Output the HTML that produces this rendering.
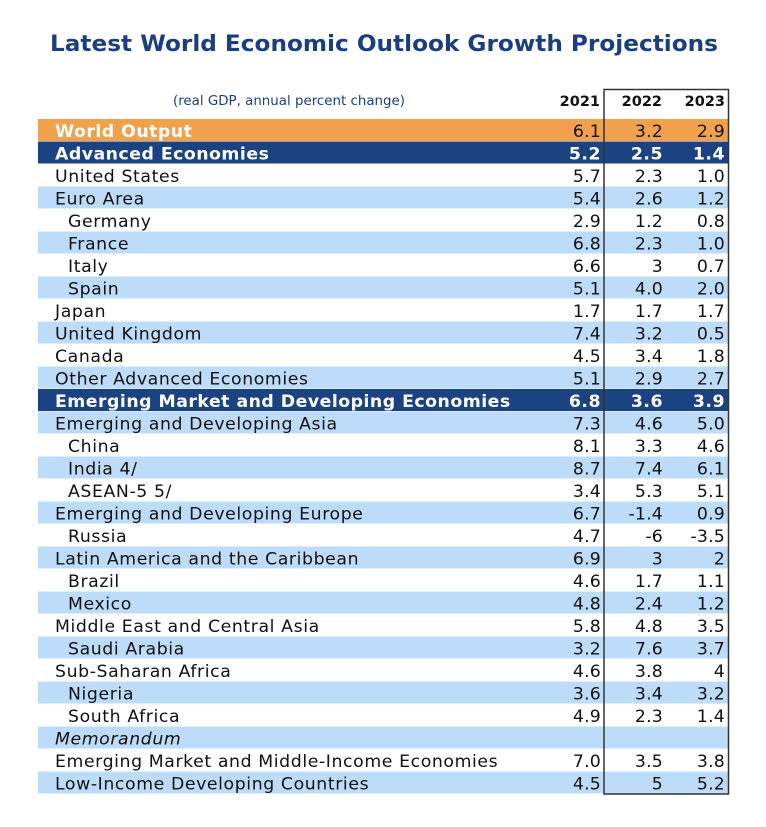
<!DOCTYPE html>
<html><head><meta charset="utf-8"><style>
html,body{margin:0;padding:0;background:#fff;width:766px;height:827px;overflow:hidden}
svg{display:block}
text{font-family:"DejaVu Sans","Liberation Sans",sans-serif;font-size:17.3px;letter-spacing:0.6px;fill:#111}
.num{letter-spacing:0.2px}
.w{fill:#fff;font-weight:bold;letter-spacing:0.5px}
.h{font-weight:bold;font-size:14.5px;letter-spacing:0}
</style></head><body>
<svg width="766" height="827" viewBox="0 0 766 827" xmlns="http://www.w3.org/2000/svg">
<text x="50" y="51" textLength="668" lengthAdjust="spacingAndGlyphs" style="font-family:'DejaVu Sans','Liberation Sans',sans-serif;font-weight:bold;font-size:22px;letter-spacing:0;fill:#1b3f7e">Latest World Economic Outlook Growth Projections</text>
<text x="173" y="105" textLength="232" lengthAdjust="spacingAndGlyphs" style="font-size:13px;letter-spacing:0;fill:#1b3f7e">(real GDP, annual percent change)</text>
<text class="h" x="600" y="106" text-anchor="end">2021</text>
<text class="h" x="662" y="106" text-anchor="end">2022</text>
<text class="h" x="725" y="106" text-anchor="end">2023</text>
<g id="rows"></g>
<rect x="604" y="89.5" width="124.5" height="704.5" fill="none" stroke="#333" stroke-width="1.5"/>
</svg>
<script>
var rows=[
["World Output",0,"6.1","3.2","2.9","o"],
["Advanced Economies",0,"5.2","2.5","1.4","n"],
["United States",0,"5.7","2.3","1.0"],
["Euro Area",0,"5.4","2.6","1.2"],
["Germany",1,"2.9","1.2","0.8"],
["France",1,"6.8","2.3","1.0"],
["Italy",1,"6.6","3","0.7"],
["Spain",1,"5.1","4.0","2.0"],
["Japan",0,"1.7","1.7","1.7"],
["United Kingdom",0,"7.4","3.2","0.5"],
["Canada",0,"4.5","3.4","1.8"],
["Other Advanced Economies",0,"5.1","2.9","2.7"],
["Emerging Market and Developing Economies",0,"6.8","3.6","3.9","n"],
["Emerging and Developing Asia",0,"7.3","4.6","5.0"],
["China",1,"8.1","3.3","4.6"],
["India 4/",1,"8.7","7.4","6.1"],
["ASEAN-5 5/",1,"3.4","5.3","5.1"],
["Emerging and Developing Europe",0,"6.7","-1.4","0.9"],
["Russia",1,"4.7","-6","-3.5"],
["Latin America and the Caribbean",0,"6.9","3","2"],
["Brazil",1,"4.6","1.7","1.1"],
["Mexico",1,"4.8","2.4","1.2"],
["Middle East and Central Asia",0,"5.8","4.8","3.5"],
["Saudi Arabia",1,"3.2","7.6","3.7"],
["Sub-Saharan Africa",0,"4.6","3.8","4"],
["Nigeria",1,"3.6","3.4","3.2"],
["South Africa",1,"4.9","2.3","1.4"],
["Memorandum",0,"","","","i"],
["Emerging Market and Middle-Income Economies",0,"7.0","3.5","3.8"],
["Low-Income Developing Countries",0,"4.5","5","5.2"]];
var g=document.getElementById("rows"),h="";
rows.forEach(function(r,i){
 var top=119+22.5*i, t=r[5]||"";
 var fill = t=="o"?"#f0a14c": t=="n"?"#1b4281": (i%2==1?"#bddcf9":null);
 if(fill) h+='<rect x="38" y="'+top+'" width="690" height="22" fill="'+fill+'"/>';
 var y=top+17.8, x=r[1]?68:55;
 var lc = t=="o"||t=="n" ? ' class="w"' : '';
 var st = t=="i" ? ' style="font-style:italic"' : '';
 h+='<text x="'+x+'" y="'+y+'"'+lc+st+'>'+r[0]+'</text>';
 var nc = t=="n" ? ' class="num w"' : ' class="num"';
 h+='<text x="601" y="'+y+'" text-anchor="end"'+nc+'>'+r[2]+'</text>';
 h+='<text x="663" y="'+y+'" text-anchor="end"'+nc+'>'+r[3]+'</text>';
 h+='<text x="725" y="'+y+'" text-anchor="end"'+nc+'>'+r[4]+'</text>';
});
g.innerHTML=h;
</script>
</body></html>
